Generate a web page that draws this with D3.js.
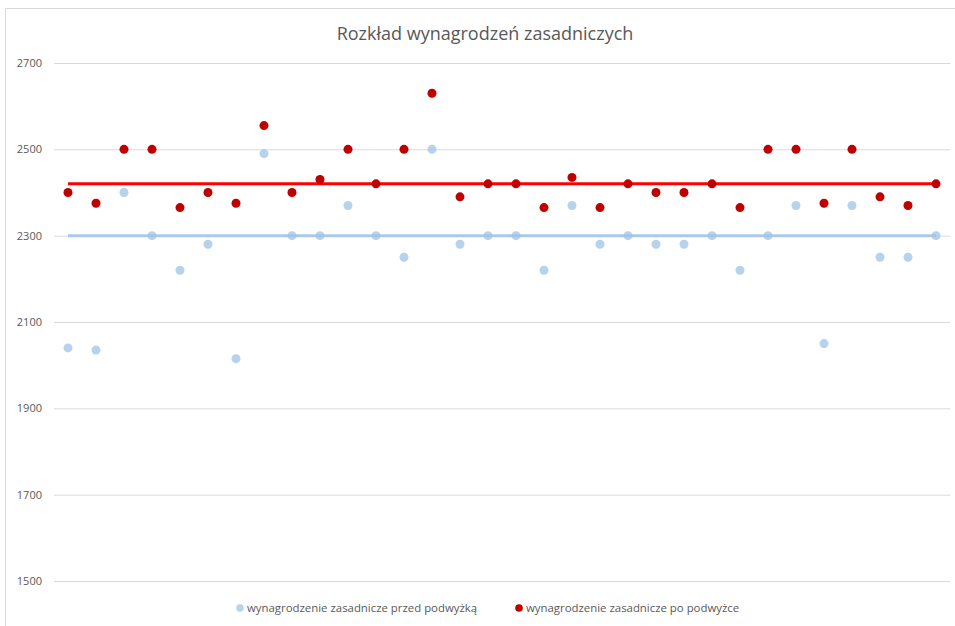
<!DOCTYPE html>
<html><head><meta charset="utf-8">
<script src="https://cdn.jsdelivr.net/npm/d3@7"></script>
<style>body{margin:0;background:#fff;} svg{display:block;} text{font-family:"Open Sans","Liberation Sans",sans-serif;}</style>
</head><body>
<svg id="c" width="955" height="626"></svg>
<script>
const title = "Rozkład wynagrodzeń zasadniczych";
const seriesNames = ["wynagrodzenie zasadnicze przed podwyżką", "wynagrodzenie zasadnicze po podwyżce"];
const yTicks = [1500, 1700, 1900, 2100, 2300, 2500, 2700];
const before = [2040,2035,2400,2300,2220,2280,2015,2490,2300,2300,2370,2300,2250,2500,2280,2300,2300,2220,2370,2280,2300,2280,2280,2300,2220,2300,2370,2050,2370,2250,2250,2300];
const after = [2400,2375,2500,2500,2365,2400,2375,2555,2400,2430,2500,2420,2500,2630,2390,2420,2420,2365,2435,2365,2420,2400,2400,2420,2365,2500,2500,2375,2500,2390,2370,2420];
const avgBefore = [2300, 2300];
const avgAfter = [2420, 2420];

const svg = d3.select("#c");
const pLeft = 54, pRight = 950, pTop = 63, pBottom = 581;
const idx = d3.range(1, before.length + 1);
const x = d3.scaleLinear().domain([0.5, before.length + 0.5]).range([pLeft, pRight]);
const y = d3.scaleLinear().domain([1500, 2700]).range([pBottom, pTop]);

// chart border
svg.append("path").attr("d", `M5.5,626 V8.5 H955`).attr("fill","none").attr("stroke","#d9d9d9").attr("stroke-width",1);

svg.append("text").attr("x", 485).attr("y", 40).attr("text-anchor","middle")
  .attr("font-size", 18).attr("fill", "#595959").text(title);

// gridlines
const yAxis = d3.axisLeft(y).tickValues(yTicks).tickSize(-(pRight-pLeft)).tickPadding(12).tickFormat(d3.format("d"));
const g = svg.append("g").attr("transform", `translate(${pLeft},0)`).call(yAxis);
g.select(".domain").remove();
g.selectAll(".tick line").attr("stroke","#d9d9d9").attr("stroke-width",1);
g.selectAll(".tick text").attr("fill","#595959").attr("font-size",11)
  .style("font-family","'Open Sans','Liberation Sans',sans-serif");

// average lines
const line = d3.line().x((d,i) => x(i === 0 ? 1 : before.length)).y(d => y(d));
svg.append("path").datum(avgBefore).attr("d", line).attr("stroke","#9dc3e6").attr("stroke-opacity",0.85).attr("stroke-width",3).attr("fill","none");
svg.append("path").datum(avgAfter).attr("d", line).attr("stroke","#ff0000").attr("stroke-width",3).attr("fill","none");

// points
svg.append("g").selectAll("circle").data(before).join("circle")
  .attr("cx", (d,i) => x(idx[i])).attr("cy", d => y(d)).attr("r", 4.5)
  .attr("fill","#9dc3e6").attr("fill-opacity",0.75);
svg.append("g").selectAll("circle").data(after).join("circle")
  .attr("cx", (d,i) => x(idx[i])).attr("cy", d => y(d)).attr("r", 4.5)
  .attr("fill","#c00000");

// legend
const lg = svg.append("g");
const items = [{c:"#9dc3e6",o:0.75,x:240},{c:"#c00000",o:1,x:519}];
items.forEach((it,i) => {
  lg.append("circle").attr("cx", it.x).attr("cy", 608).attr("r", 3.8).attr("fill", it.c).attr("fill-opacity", it.o);
  lg.append("text").attr("x", it.x + 7).attr("y", 612).attr("font-size", 11.4).attr("fill","#595959").text(seriesNames[i]);
});
</script>
</body></html>
